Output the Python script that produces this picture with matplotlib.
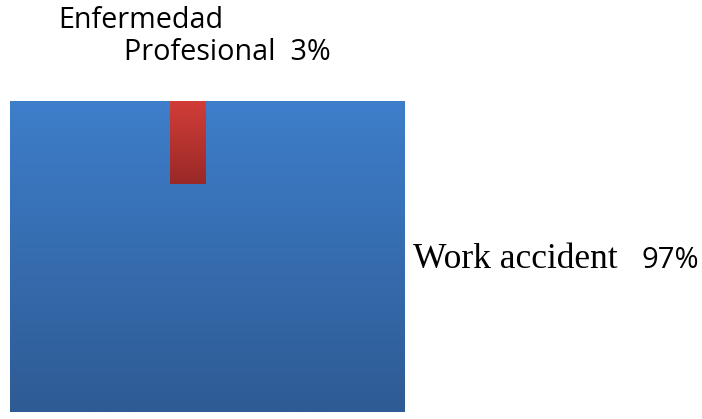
import numpy as np
import matplotlib.pyplot as plt
from matplotlib.colors import LinearSegmentedColormap

# data
labels = ["Work accident", "Enfermedad", "Profesional"]
shares = [97, 3]

W, H = 702, 419
fig = plt.figure(figsize=(W / 100, H / 100), dpi=100)

def px(x0, y0, x1, y1):
    # pixel box (top-left origin) -> figure fraction rect
    return [x0 / W, 1 - y1 / H, (x1 - x0) / W, (y1 - y0) / H]

ax = fig.add_axes(px(10, 101, 405, 412))
ax.set_xlim(0, 1)
ax.set_ylim(0, 1)
ax.axis('off')

def gradient_bar(ax, x, width, bottom, height, top_col, bot_col):
    bar = ax.bar(x, height, width=width, bottom=bottom, align='edge',
                 color='none', edgecolor='none')[0]
    cmap = LinearSegmentedColormap.from_list('g', [bot_col, top_col])
    grad = np.linspace(0, 1, 256).reshape(-1, 1)
    im = ax.imshow(grad, cmap=cmap, aspect='auto', origin='lower',
                   extent=[x, x + width, bottom, bottom + height], zorder=bar.get_zorder())
    im.set_clip_path(bar)
    return bar

# main share fills the whole square
gradient_bar(ax, 0, 1, 0, 1, '#3E7ECB', '#2E5B94')

# small share drawn as narrow bar hanging from the top
small_w = 0.091
small_h = 0.267
gradient_bar(ax, 0.405, small_w, 1 - small_h, small_h, '#D23D38', '#992927')

ax.set_xlim(0, 1)
ax.set_ylim(0, 1)

sans = 'Open Sans'
fig.text(58 / W, 1 - 28 / H, labels[1], fontsize=20.7, family=sans,
         va='baseline', ha='left')
fig.text(124 / W, 1 - 60 / H, "%s  %d%%" % (labels[2], shares[1]), fontsize=20.7,
         family=sans, va='baseline', ha='left')

fig.text(413 / W, 1 - 268 / H, labels[0], fontsize=25.5, family='Liberation Serif',
         va='baseline', ha='left')
fig.text(699 / W, 1 - 268 / H, "%d%%" % shares[0], fontsize=21, family=sans,
         va='baseline', ha='right')

fig.savefig('out.png', dpi=100)
